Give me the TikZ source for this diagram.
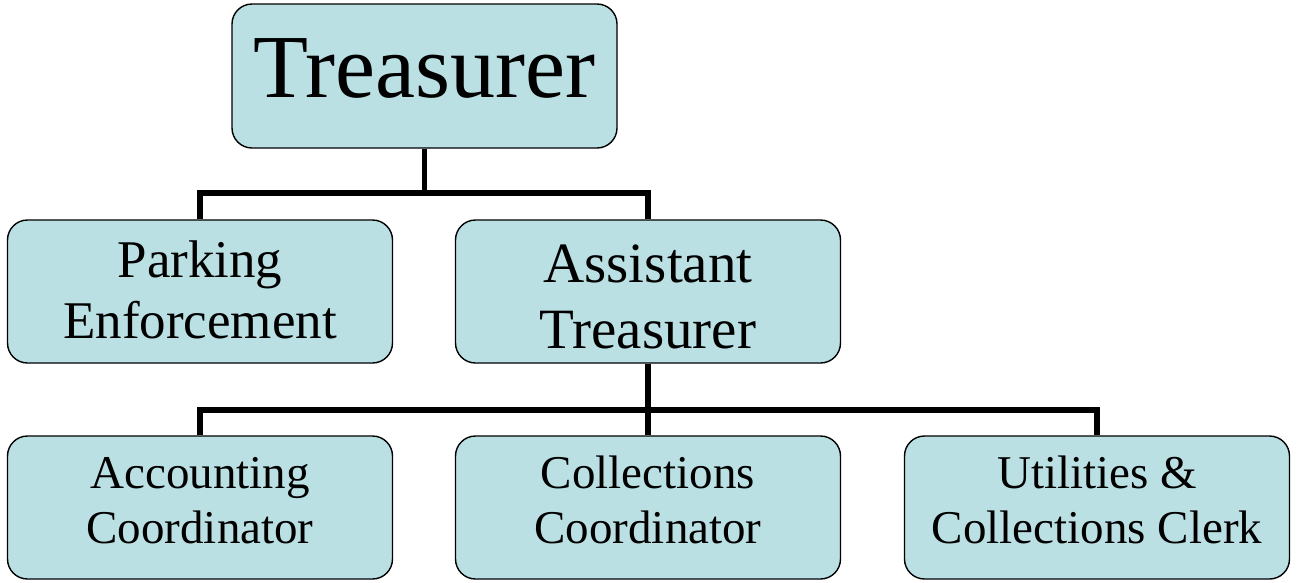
\documentclass[tikz,border=0pt]{standalone}
\usepackage{fontspec}
\setmainfont{Liberation Serif}
\usepackage{tikz}
\definecolor{boxfill}{RGB}{186,224,227}
\tikzset{
    post/.style={shape=rectangle, rounded corners=20pt, draw=black, line width=1.4pt, fill=boxfill,
        minimum width=385pt, minimum height=143pt, align=center, inner sep=0pt},
    link/.style={line width=5.5pt, black}}

\begin{document}
\begin{tikzpicture}[x=1pt, y=-1pt]
                
                    \useasboundingbox (0,0) rectangle (1298,582);
                    
                    \node[post, minimum height=144pt, font=\fontsize{90}{96}\selectfont, text height=60pt, text depth=18pt] (T) at (424.5,76) {Treasurer};
                    \node[post, font=\fontsize{53}{61}\selectfont, text height=97pt, text depth=4pt] (P) at (200,291.5) {Parking\\Enforcement};
                    \node[post, font=\fontsize{57}{66}\selectfont, text height=113pt, text depth=0pt] (A) at (648,291.5) {Assistant\\Treasurer};
                    \node[post, font=\fontsize{47}{55}\selectfont, text height=87pt, text depth=16pt] (AC) at (200,507.5) {Accounting\\Coordinator};
                    \node[post, font=\fontsize{47}{55}\selectfont, text height=87pt, text depth=16pt] (CC) at (648,507.5) {Collections\\Coordinator};
                    \node[post, font=\fontsize{47}{55}\selectfont, text height=87pt, text depth=16pt] (UC) at (1097,507.5) {Utilities \&\\Collections Clerk};
                    
                    \coordinate (bus1) at (424.5,193);
                    \coordinate (bus2) at (648,410);
                    
                    \draw[link] (T.south) -- (bus1);
                    \draw[link] (bus1) -| (P.north);
                    \draw[link] (bus1) -| (A.north);
                    \draw[link] (A.south) -- (bus2);
                    \draw[link] (bus2) -| (AC.north);
                    \draw[link] (bus2) -- (CC.north);
                    \draw[link] (bus2) -| (UC.north);
            
                \end{tikzpicture}
\end{document}
